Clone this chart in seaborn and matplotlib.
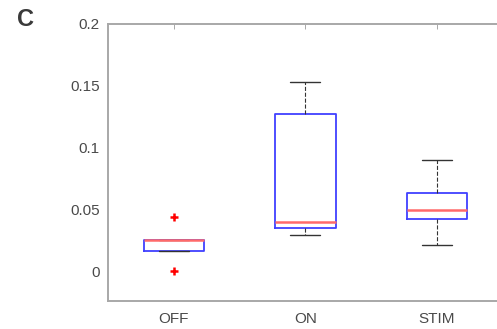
import pandas as pd
import seaborn as sns
import matplotlib.pyplot as plt
import numpy as np

# per-condition samples (whisker ends, quartiles, median, outliers)
off_vals = [0.001, 0.0165, 0.0165, 0.026, 0.026, 0.026, 0.044]
on_vals = [0.030, 0.035, 0.040, 0.127, 0.153]
stim_vals = [0.022, 0.043, 0.050, 0.064, 0.090]
conditions = ["OFF", "ON", "STIM"]
yticks = [0, 0.05, 0.1, 0.15, 0.2]
ytick_labels = ["0", "0.05", "0.1", "0.15", "0.2"]

data = pd.DataFrame({
    "cond": ["OFF"] * len(off_vals) + ["ON"] * len(on_vals) + ["STIM"] * len(stim_vals),
    "value": off_vals + on_vals + stim_vals,
})

sns.set_style("white")
plt.rcParams["font.family"] = ["Liberation Sans", "DejaVu Sans"]

fig = plt.figure(figsize=(4.97, 3.29), dpi=100)
# right edge of the box sits just outside the picture, as in the cropped original
ax = fig.add_axes([0.2173, 0.0851, 0.7928, 0.842])

sns.boxplot(data=data, x="cond", y="value", order=conditions, fill=False, width=0.46,
            whis=1.5, linewidth=1.0, fliersize=6, ax=ax,
            boxprops=dict(color="#4040ff", linewidth=1.3),
            medianprops=dict(color="#ff6a6a", linewidth=1.8),
            whiskerprops=dict(color="#333333", linestyle="--", linewidth=0.8),
            capprops=dict(color="#333333", linewidth=1.0),
            flierprops=dict(marker="+", markeredgecolor="red", markerfacecolor="red",
                            markeredgewidth=1.8))

ax.set_xlim(-0.5, 2.496)
ax.set_ylim(-0.0235, 0.2)
ax.set_yticks(yticks)
ax.set_yticklabels(ytick_labels)
ax.set_xlabel("")
ax.set_ylabel("")

for sp in ax.spines.values():
    sp.set_visible(True)
    sp.set_color("#a8a8a8")
    sp.set_linewidth(1.4)
ax.tick_params(direction="in", length=3.5, width=0.7, color="#a8a8a8",
               top=True, right=True, labelsize=11, labelcolor="#4a4a4a")
ax.tick_params(axis="y", pad=6)
ax.tick_params(axis="x", pad=8)

fig.text(17 / 497, 1 - 8 / 329, "C", fontsize=17, fontweight="bold", color="#3a3a3a",
         va="top", ha="left")

fig.savefig("out.png", dpi=100)
